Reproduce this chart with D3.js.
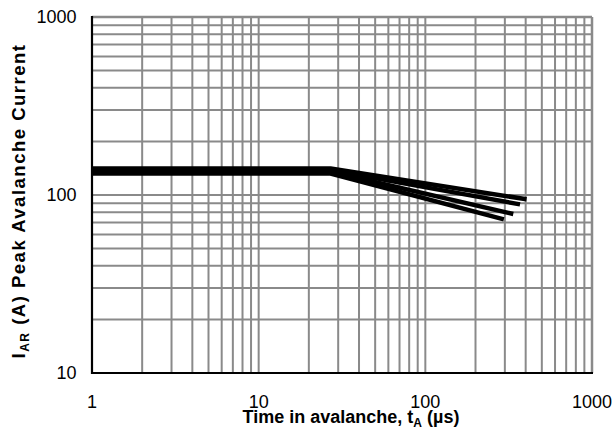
<!DOCTYPE html>
<html>
<head>
<meta charset="utf-8">
<script src="https://cdn.jsdelivr.net/npm/d3@7"></script>
<style>
  html, body { margin: 0; padding: 0; background: #fff; }
  svg { display: block; font-family: Arial, "Liberation Sans", sans-serif; }
</style>
</head>
<body>
<svg id="chart" width="615" height="431"></svg>
<script>
// Avalanche time (µs) and peak avalanche current (A) for each curve
const seriesNames = ["c1", "c2", "c3", "c4"];
const timeA = [
  [1, 27, 405],
  [1, 27, 370],
  [1, 27, 337],
  [1, 27, 296]
];
const currentA = [
  [141, 141, 94.6],
  [138, 138, 88.6],
  [135, 135, 78.2],
  [132, 132, 73.0]
];
const xTicks = [1, 10, 100, 1000];
const yTicks = [10, 100, 1000];

const margin = { left: 92, right: 23, top: 17, bottom: 58 };
const W = 615, H = 431;
const svg = d3.select("#chart");

const x = d3.scaleLog().domain([1, 1000]).range([margin.left, W - margin.right]);
const y = d3.scaleLog().domain([10, 1000]).range([H - margin.bottom, margin.top]);

// grid values: every 1..9 step per decade
const xGrid = [], yGrid = [];
for (let p = 0; p < 3; p++) for (let m = 1; m <= 9; m++) {
  const v = m * Math.pow(10, p);
  if (v > 1) xGrid.push(v);
}
for (let p = 1; p < 3; p++) for (let m = 1; m <= 9; m++) {
  const v = m * Math.pow(10, p);
  if (v > 10) yGrid.push(v);
}

const gridColor = "#8a8a8a";
const g = svg.append("g");

g.selectAll("line.vx").data(xGrid).join("line")
  .attr("x1", d => x(d)).attr("x2", d => x(d))
  .attr("y1", y(10)).attr("y2", y(1000))
  .attr("stroke", gridColor).attr("stroke-width", 2);

g.selectAll("line.hy").data(yGrid).join("line")
  .attr("x1", x(1)).attr("x2", x(1000))
  .attr("y1", d => y(d)).attr("y2", d => y(d))
  .attr("stroke", gridColor).attr("stroke-width", 2);

// frame: top and right in grey, left and bottom in black
g.append("line").attr("x1", x(1)).attr("x2", x(1000)).attr("y1", y(1000)).attr("y2", y(1000))
  .attr("stroke", gridColor).attr("stroke-width", 2.5);
g.append("line").attr("x1", x(1000)).attr("x2", x(1000)).attr("y1", y(10)).attr("y2", y(1000))
  .attr("stroke", gridColor).attr("stroke-width", 2.5);

// curves
const line = d3.line().x(d => x(d[0])).y(d => y(d[1]));
seriesNames.forEach((name, i) => {
  const pts = timeA[i].map((t, j) => [t, currentA[i][j]]);
  svg.append("path").datum(pts)
    .attr("class", name)
    .attr("d", line)
    .attr("fill", "none")
    .attr("stroke", "#000")
    .attr("stroke-width", 4.5)
    .attr("stroke-linejoin", "round");
});

// axes lines
svg.append("line").attr("x1", x(1)).attr("x2", x(1)).attr("y1", y(10) + 1).attr("y2", y(1000) - 1)
  .attr("stroke", "#000").attr("stroke-width", 2.2);
svg.append("line").attr("x1", x(1) - 1).attr("x2", x(1000) + 1).attr("y1", y(10)).attr("y2", y(10))
  .attr("stroke", "#000").attr("stroke-width", 2.2);

// tick labels
const fmt = d => String(d);
svg.append("g").selectAll("text").data(yTicks).join("text")
  .attr("x", 76.5).attr("y", d => y(d)).attr("dy", "0.36em")
  .attr("text-anchor", "end").attr("font-size", 18).attr("fill", "#000")
  .text(fmt);

svg.append("g").selectAll("text").data(xTicks).join("text")
  .attr("x", d => x(d)).attr("y", 408)
  .attr("text-anchor", "middle").attr("font-size", 18).attr("fill", "#000")
  .text(fmt);

// axis titles
const xt = svg.append("text").attr("x", 351).attr("y", 423)
  .attr("text-anchor", "middle").attr("font-size", 18).attr("font-weight", "bold");
xt.append("tspan").text("Time in avalanche, t");
xt.append("tspan").attr("font-size", 12).attr("dy", 4).text("A");
xt.append("tspan").attr("dy", -4).text(" (µs)");

const yt = svg.append("text")
  .attr("transform", `translate(25,201) rotate(-90)`)
  .attr("text-anchor", "middle").attr("font-size", 18.5).attr("font-weight", "bold")
  .attr("letter-spacing", 1.5);
yt.append("tspan").text("I");
yt.append("tspan").attr("font-size", 12).attr("dy", 4).text("AR");
yt.append("tspan").attr("dy", -4).text(" (A) Peak Avalanche Current");
</script>
</body>
</html>
